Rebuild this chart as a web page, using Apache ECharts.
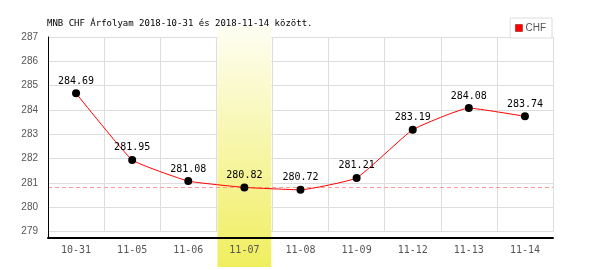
<!DOCTYPE html>
<html>
<head>
<meta charset="utf-8">
<script src="https://cdn.jsdelivr.net/npm/echarts@6/dist/echarts.min.js"></script>
<style>html,body{margin:0;padding:0;background:#fff}#c{width:600px;height:270px}</style>
</head>
<body>
<div id="c"></div>
<script>
var titleText = 'MNB CHF Árfolyam 2018-10-31 és 2018-11-14 között.';
var seriesName = 'CHF';
var categories = ['10-31','11-05','11-06','11-07','11-08','11-09','11-12','11-13','11-14'];
var values = [284.69, 281.95, 281.08, 280.82, 280.72, 281.21, 283.19, 284.08, 283.74];
var highlightDay = '11-07';
var referenceValue = 280.82;
var yMin = 278.74, yMax = 287, yTickMin = 279, yTickInterval = 1;

var bandData = categories.map(function (c) { return c === highlightDay ? 1 : '-'; });
var mono = 'DejaVu Sans Mono';

var chart = echarts.init(document.getElementById('c'), null, {renderer: 'canvas'});
chart.setOption({
  animation: false,
  backgroundColor: '#fff',
  title: {
    text: titleText, left: 42, top: 14,
    textStyle: {fontFamily: mono, fontSize: 9, fontWeight: 'normal', color: '#000'}
  },
  legend: {
    data: [{name: seriesName, icon: 'rect', itemStyle: {color: '#ff0000', borderColor: '#800', borderWidth: 0.5}}],
    right: 48, top: 18, orient: 'vertical',
    itemWidth: 7, itemHeight: 7, itemGap: 0,
    padding: [5, 6, 5, 5],
    backgroundColor: '#fff', borderColor: '#ddd', borderWidth: 1,
    textStyle: {fontFamily: 'Liberation Sans', fontSize: 10, color: '#555', padding: [0,0,0,-2]},
    z: 10
  },
  grid: [
    {left: 48, right: 47, top: 37, bottom: 32},
    {left: 48, right: 47, top: 37, bottom: 38.3},
    {left: 48, right: 47, top: 25, bottom: 3}
  ],
  xAxis: [
    {type: 'category', gridIndex: 0, data: categories, boundaryGap: true, z: 5,
     axisLine: {lineStyle: {color: '#000', width: 2}},
     axisTick: {show: false},
     axisLabel: {fontFamily: mono, fontSize: 10, color: '#555', margin: 7},
     splitLine: {show: false}},
    {type: 'category', gridIndex: 1, data: categories, boundaryGap: true, z: 0,
     axisLine: {show: false}, axisTick: {show: false}, axisLabel: {show: false},
     splitLine: {show: true, lineStyle: {color: '#ddd', width: 1}}},
    {type: 'category', gridIndex: 2, data: categories, boundaryGap: true, show: false}
  ],
  yAxis: [
    {type: 'value', gridIndex: 0, min: yMin, max: yMax, z: 5,
     axisLine: {show: true, lineStyle: {color: '#000', width: 1}},
     axisTick: {show: false}, axisLabel: {show: false}, splitLine: {show: false}},
    {type: 'value', gridIndex: 1, min: yTickMin, max: yMax, interval: yTickInterval, z: 0,
     axisLine: {show: false}, axisTick: {show: false},
     axisLabel: {fontFamily: 'Liberation Sans', fontSize: 10, color: '#555', margin: 10},
     splitLine: {show: true, lineStyle: {color: '#ddd', width: 1}}},
    {type: 'value', gridIndex: 2, min: 0, max: 1, show: false}
  ],
  series: [
    {type: 'bar', xAxisIndex: 2, yAxisIndex: 2, data: bandData, barWidth: '96%', z: 1,
     silent: true,
     itemStyle: {color: new echarts.graphic.LinearGradient(0, 0, 0, 1, [
       {offset: 0, color: '#fefef4'}, {offset: 1, color: '#f0ee5e'}])}},
    {type: 'line', name: seriesName, xAxisIndex: 0, yAxisIndex: 0, data: values, z: 6,
     smooth: 0.12,
     lineStyle: {color: '#ff0000', width: 1},
     itemStyle: {color: '#000'},
     symbol: 'circle', symbolSize: 8,
     label: {show: true, position: 'top', distance: 3, fontFamily: mono, fontSize: 10, color: '#000',
       formatter: function (p) { return p.value.toFixed(2); }},
     markLine: {silent: true, symbol: 'none', label: {show: false},
       lineStyle: {color: '#f99', type: [4, 3], width: 1},
       data: [{yAxis: referenceValue}]}}
  ]
});
</script>
</body>
</html>
